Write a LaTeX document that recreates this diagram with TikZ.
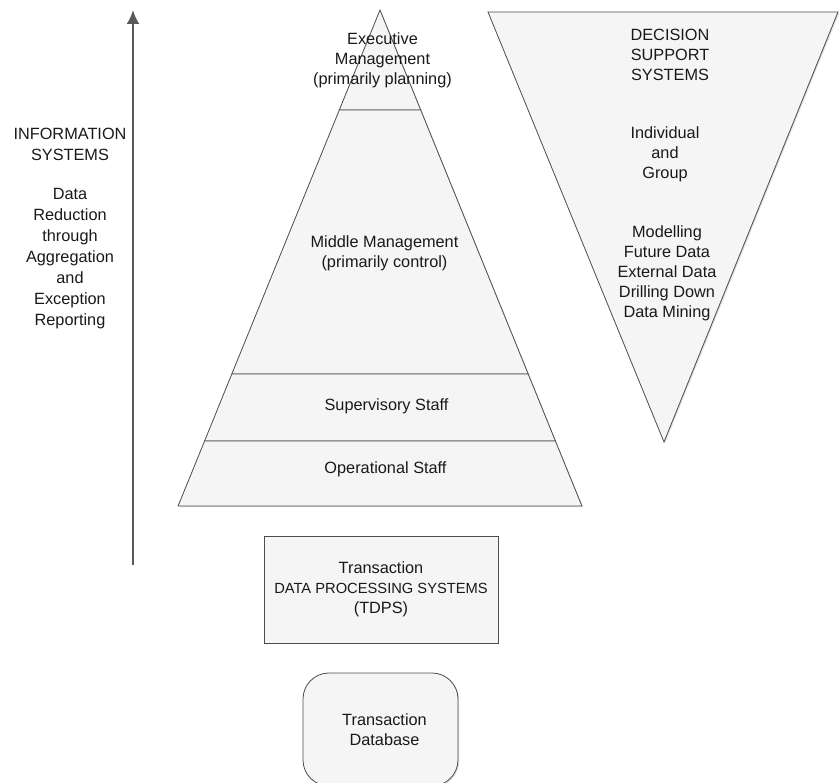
\documentclass[tikz,border=0pt]{standalone}
\usepackage{fontspec}
\setmainfont{Liberation Sans}
\usetikzlibrary{positioning,arrows.meta,shadows}

\begin{document}
\begin{tikzpicture}[x=1pt, y=-1pt,
            level shape/.style={draw=black!70, line width=0.8pt, fill=black!4,
                drop shadow={shadow xshift=1.2pt, shadow yshift=-1.2pt, opacity=0.25}},
            level text/.style={align=center, text=black!90, font=\fontsize{16.3}{20}\selectfont},
            side text/.style={level text, font=\fontsize{16.3}{21}\selectfont},
            tdps box/.style={rectangle, level shape, minimum width=234pt, minimum height=107pt, inner sep=0pt},
            db box/.style={rectangle, rounded corners=26pt, level shape, minimum width=155pt, minimum height=113pt, inner sep=0pt},
            info arrow/.style={draw=black!65, line width=2.4pt, -{Latex[length=14pt, width=13pt]}}
    ]
        \useasboundingbox (0,0) rectangle (839,783);

        % Pyramid levels
        \path[level shape] (380,10) -- (420.7,110) -- (339.3,110) -- cycle;
        \path[level shape] (339.3,110) -- (420.7,110) -- (528.2,374) -- (231.8,374) -- cycle;
        \path[level shape] (231.8,374) -- (528.2,374) -- (555.4,441) -- (204.6,441) -- cycle;
        \path[level shape] (204.6,441) -- (555.4,441) -- (581.9,506) -- (178.1,506) -- cycle;

        \node[level text] (exec) at (382.5,60) {Executive\\Management\\(primarily planning)};
        \node[level text] (middle) at (384.5,253) {Middle Management\\(primarily control)};
        \node[level text] (super) at (386.5,406) {Supervisory Staff};
        \node[level text] (oper) at (385.5,469) {Operational Staff};

        % Decision support
        \path[level shape] (488,12) -- (838,12) -- (664,442) -- cycle;
        \node[level text] (dss_title) at (670,55) {DECISION\\SUPPORT\\SYSTEMS};
        \node[level text] (dss_users) at (665,154) {Individual\\and\\Group};
        \node[level text] (dss_tools) at (667,273) {Modelling\\Future Data\\External Data\\Drilling Down\\Data Mining};

        % Information systems
        \node[side text] (info_title) at (70,144) {INFORMATION\\SYSTEMS};
        \node[side text] (info_desc) at (70,259) {Data\\Reduction\\through\\Aggregation\\and\\Exception\\Reporting};

        \coordinate (arrow_bot) at (133,565);
        \coordinate (arrow_top) at (133,10);
        \draw[info arrow] (arrow_bot) -- (arrow_top);

        % Transaction level
        \node[tdps box, level text] (tdps) at (381,589.5) {Transaction\\{\fontsize{14.7}{18}\selectfont DATA PROCESSING SYSTEMS}\\(TDPS)};
        \node[db box, level text] (db) at (380.5,729.5) {\hspace*{8pt}Transaction\\\hspace*{8pt}Database};

    \end{tikzpicture}
\end{document}
